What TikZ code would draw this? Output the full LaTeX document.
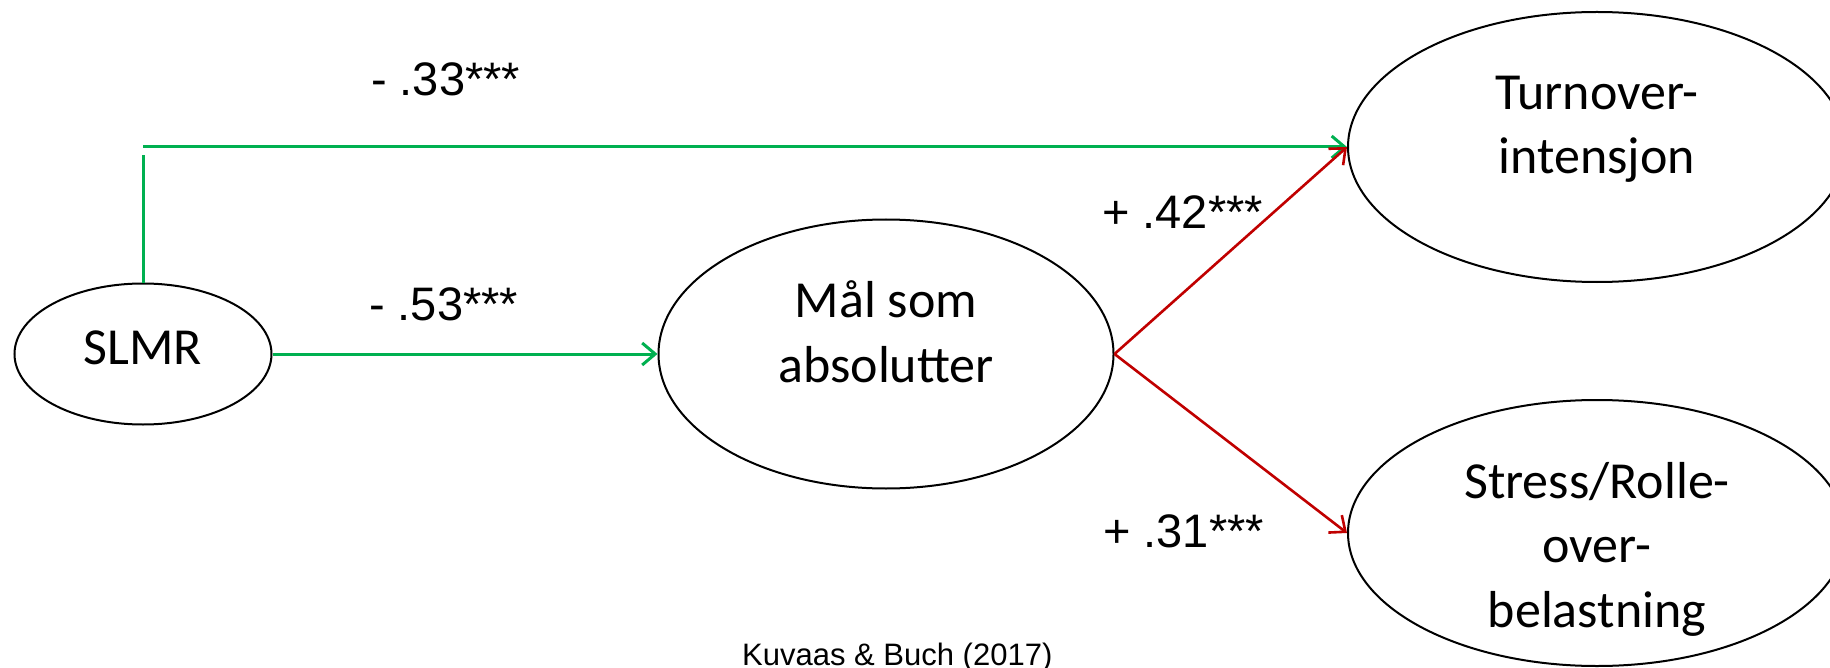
\documentclass[tikz,border=0pt]{standalone}
\usepackage{fontspec}
\setmainfont{Carlito}
\newfontfamily\arial{Liberation Sans}
\usetikzlibrary{shapes.geometric,arrows.meta}
\definecolor{pathgreen}{RGB}{0,176,80}
\definecolor{pathred}{RGB}{192,0,0}
\tikzset{
  construct/.style={ellipse, draw=black, line width=2pt, inner sep=0pt, fill=none},
  % anchor=base sits on the baseline of the last line
  nodetext/.style={anchor=base, align=center, inner sep=0pt,
    font=\fontsize{52pt}{64.5pt}\selectfont},
  coef/.style={anchor=base west, inner sep=0pt, font=\arial\fontsize{47pt}{56pt}\selectfont},
  source/.style={anchor=base west, inner sep=0pt, font=\arial\fontsize{31pt}{37pt}\selectfont},
  negpath/.style={draw=pathgreen, line width=3pt},
  pospath/.style={draw=pathred, line width=2.6pt},
  barbtip/.style={-{Straight Barb[length=13pt,width=22pt]}}
}
\begin{document}
\begin{tikzpicture}[x=1pt,y=-1pt]
\useasboundingbox (0,0) rectangle (1830,668);

% constructs
\node[construct, minimum width=257pt, minimum height=141pt] (slmr) at (143,354) {};
\node[construct, minimum width=455pt, minimum height=269pt] (goal) at (886,354) {};
\node[construct, minimum width=498pt, minimum height=270pt] (turn) at (1597,147) {};
\node[construct, minimum width=498pt, minimum height=266pt] (stress) at (1597,533) {};

% construct labels
\node[nodetext] (slmrtxt) at (143,364) {SLMR};
\node[nodetext] (goaltxt) at (886,382) {Mål som\\absolutter};
\node[nodetext] (turntxt) at (1597,174) {Turnover-\\intensjon};
\node[nodetext] (stresstxt) at (1597,627) {Stress/Rolle-\\over-\\belastning};

% direct path SLMR -> turnover intention
\coordinate (riseend) at (143,155);
\coordinate (topstart) at (143,147);
\draw[negpath] (slmr.north) -- (riseend);
\draw[negpath, barbtip] (topstart) -- (turn.west);

% mediated paths
\draw[negpath, barbtip] (slmr.east) -- (goal.west);
\draw[pospath, barbtip] (goal.east) -- (turn.west);
\draw[pospath, barbtip] (goal.east) -- (stress.west);

% path coefficients
\node[coef] (c33) at (371,96) {- .33***};
\node[coef] (c53) at (369,320) {- .53***};
\node[coef] (c42) at (1102,229) {+ .42***};
\node[coef] (c31) at (1103,547) {+ .31***};

% source
\node[source] (ref) at (742,665) {Kuvaas \& Buch (2017)};
\end{tikzpicture}
\end{document}
